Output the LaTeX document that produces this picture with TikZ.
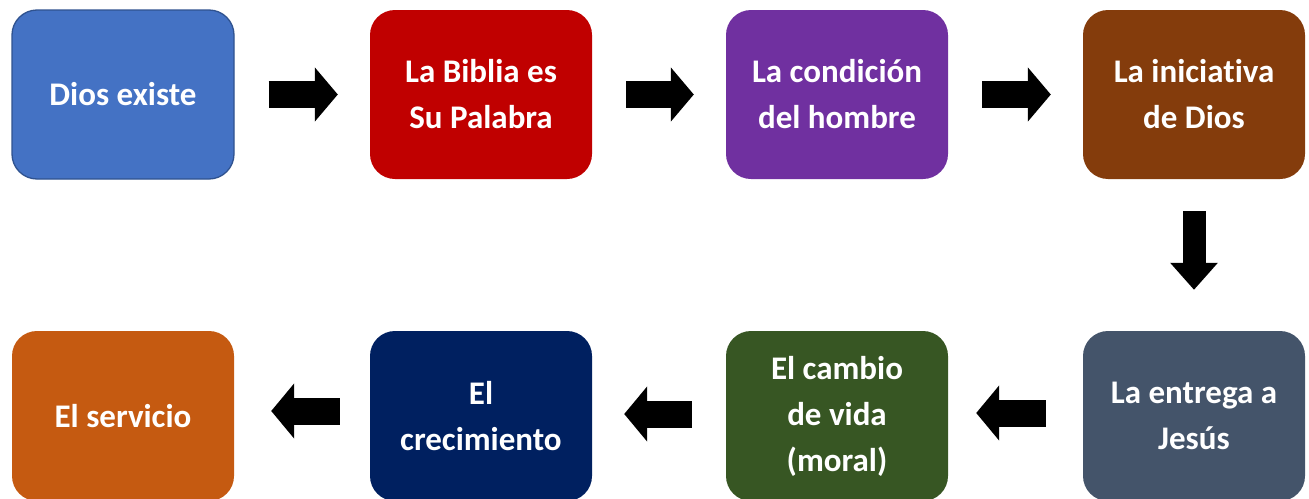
\documentclass[tikz,border=0pt]{standalone}
\usepackage{fontspec}
\setmainfont{Carlito}[Ligatures=NoCommon]
\usetikzlibrary{arrows.meta}
\definecolor{cblue}{HTML}{4472C4}
\definecolor{cblueb}{HTML}{2F528F}
\definecolor{cred}{HTML}{C00000}
\definecolor{cpurple}{HTML}{7030A0}
\definecolor{cbrown}{HTML}{843C0C}
\definecolor{cslate}{HTML}{44546A}
\definecolor{cgreen}{HTML}{375623}
\definecolor{cnavy}{HTML}{002060}
\definecolor{corange}{HTML}{C55A11}
\begin{document}
\begin{tikzpicture}[x=1pt,y=-1pt,
  box/.style={rounded corners=25pt, minimum width=222pt, minimum height=169pt, inner sep=0pt,
    align=center, text=white, font=\fontsize{33}{46}\selectfont\bfseries},
  lowbox/.style={box, minimum height=170pt},
  rarrow/.style={line width=27pt, -{Triangle[length=23pt,width=53pt]}, shorten <=34pt, shorten >=32pt},
  larrow/.style={line width=27pt, -{Triangle[length=23pt,width=54pt]}},
  darrow/.style={line width=23pt, -{Triangle[length=27pt,width=46pt]}, shorten <=32pt, shorten >=41pt}]
\useasboundingbox (0,0) rectangle (1309,498);
\node[box, fill=cblue, draw=cblueb, line width=1.3pt] (n1) at (123,94.5) {Dios existe};
\node[box, fill=cred] (n2) at (481,94.5) {La Biblia es\\Su Palabra};
\node[box, fill=cpurple] (n3) at (837,94.5) {La condición\\del hombre};
\node[box, fill=cbrown] (n4) at (1194,94.5) {La iniciativa\\de Dios};
\node[lowbox, fill=cslate] (n5) at (1194,416) {La entrega a\\Jesús};
\node[lowbox, fill=cgreen] (n6) at (837,416) {El cambio\\de vida\\(moral)};
\node[lowbox, fill=cnavy] (n7) at (481,416) {El\\crecimiento};
\node[lowbox, fill=corange] (n8) at (123,416) {El servicio};
\draw[rarrow] (n1) -- (n2);
\draw[rarrow] (n2) -- (n3);
\draw[rarrow] (n3) -- (n4);
\draw[darrow] (n4) -- (n5);
\draw[larrow, shorten <=37pt, shorten >=28pt] ([yshift=3pt]n5.west) -- ([yshift=3pt]n6.east);
\draw[larrow, shorten <=34pt, shorten >=32pt] ([yshift=2pt]n6.west) -- ([yshift=2pt]n7.east);
\draw[larrow, shorten <=30pt, shorten >=37pt] ([yshift=5pt]n7.west) -- ([yshift=5pt]n8.east);
\end{tikzpicture}
\end{document}
